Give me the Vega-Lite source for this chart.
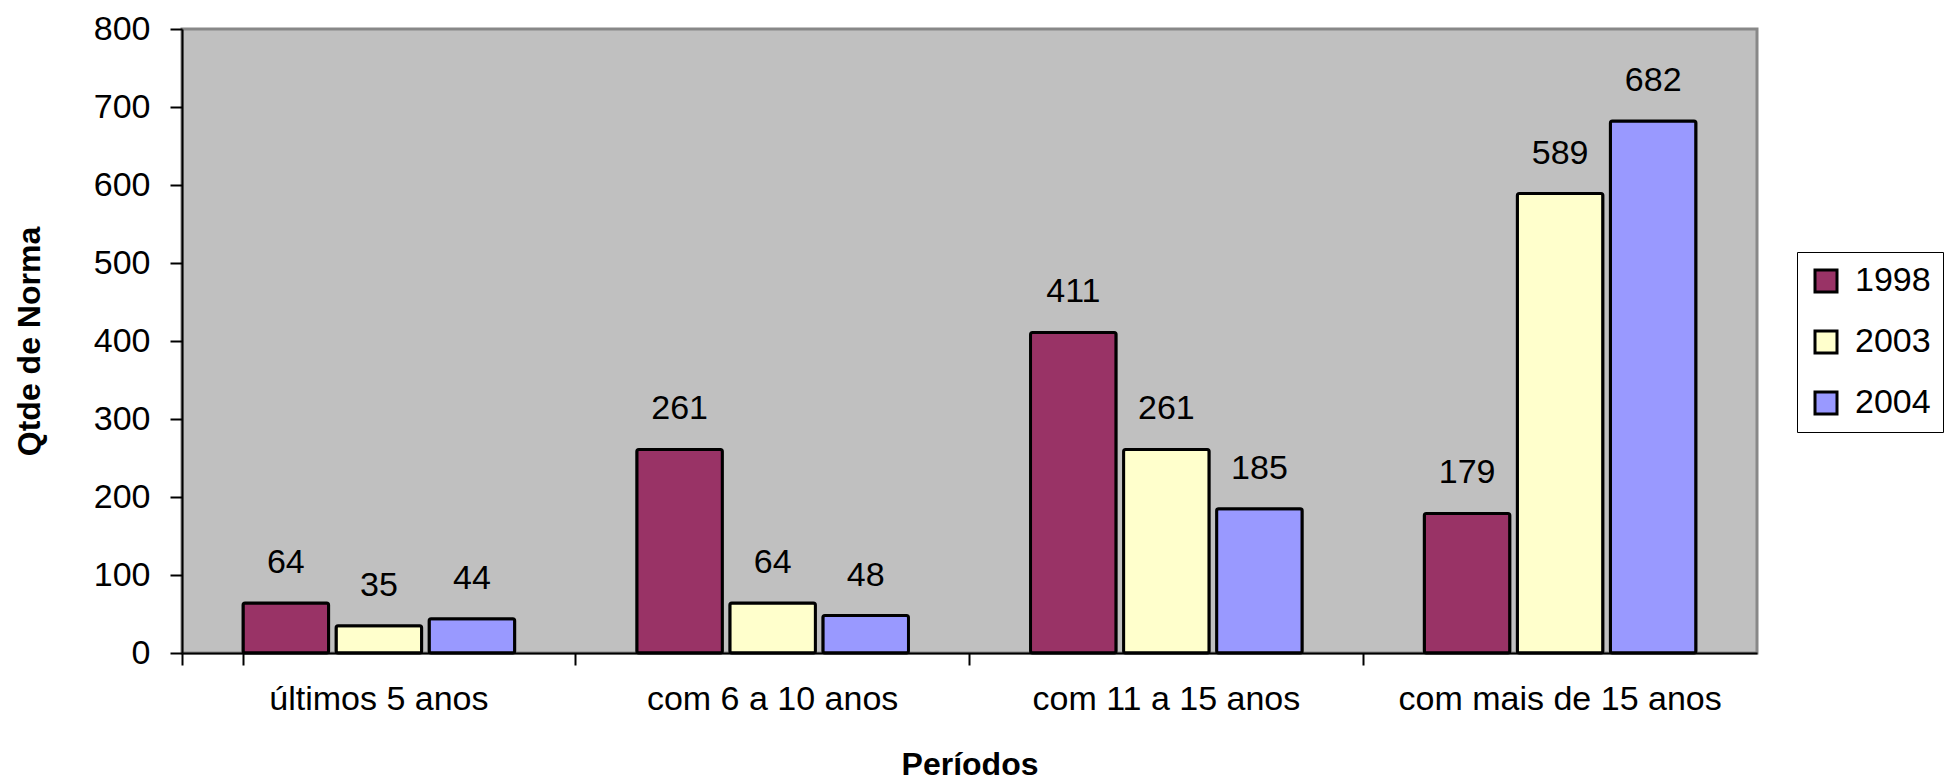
{
  "$schema": "https://vega.github.io/schema/vega-lite/v6.json",
  "width": 1575,
  "height": 624,
  "autosize": {"type": "none"},
  "padding": {"left": 182, "top": 29, "right": 193, "bottom": 128},
  "background": "white",
  "config": {
    "font": "Liberation Sans",
    "view": {"fill": "#C0C0C0", "stroke": "#888888", "strokeWidth": 3}
  },
  "data": {
    "values": [
      {"periodo": "últimos 5 anos", "ano": "1998", "qtd": 64},
      {"periodo": "últimos 5 anos", "ano": "2003", "qtd": 35},
      {"periodo": "últimos 5 anos", "ano": "2004", "qtd": 44},
      {"periodo": "com 6 a 10 anos", "ano": "1998", "qtd": 261},
      {"periodo": "com 6 a 10 anos", "ano": "2003", "qtd": 64},
      {"periodo": "com 6 a 10 anos", "ano": "2004", "qtd": 48},
      {"periodo": "com 11 a 15 anos", "ano": "1998", "qtd": 411},
      {"periodo": "com 11 a 15 anos", "ano": "2003", "qtd": 261},
      {"periodo": "com 11 a 15 anos", "ano": "2004", "qtd": 185},
      {"periodo": "com mais de 15 anos", "ano": "1998", "qtd": 179},
      {"periodo": "com mais de 15 anos", "ano": "2003", "qtd": 589},
      {"periodo": "com mais de 15 anos", "ano": "2004", "qtd": 682}
    ]
  },
  "encoding": {
    "x": {
      "field": "periodo",
      "type": "nominal",
      "sort": ["últimos 5 anos", "com 6 a 10 anos", "com 11 a 15 anos", "com mais de 15 anos"],
      "scale": {"paddingInner": 0.31, "paddingOuter": 0.155},
      "axis": {
        "title": "Períodos",
        "titleFontSize": 32,
        "titleFontWeight": "bold",
        "titleColor": "black",
        "titlePadding": 33,
        "labelAngle": 0,
        "labelFontSize": 34,
        "labelColor": "black",
        "labelPadding": 17,
        "labelLimit": 0,
        "bandPosition": -0.2246,
        "tickExtra": true,
        "tickSize": 12,
        "tickColor": "black",
        "tickWidth": 2,
        "domainColor": "black",
        "domainWidth": 2
      }
    },
    "xOffset": {
      "field": "ano",
      "type": "nominal",
      "scale": {"paddingInner": 0.08, "paddingOuter": 0}
    },
    "y": {
      "field": "qtd",
      "type": "quantitative",
      "scale": {"domain": [0, 800]},
      "axis": {
        "title": "Qtde de Norma",
        "titleFontSize": 32,
        "titleFontWeight": "bold",
        "titleColor": "black",
        "titlePadding": 47,
        "values": [0, 100, 200, 300, 400, 500, 600, 700, 800],
        "grid": false,
        "labelFontSize": 34,
        "labelColor": "black",
        "labelPadding": 20,
        "tickSize": 12,
        "tickColor": "black",
        "tickWidth": 2,
        "domainColor": "black",
        "domainWidth": 2
      }
    }
  },
  "layer": [
    {
      "mark": {"type": "bar", "stroke": "black", "strokeWidth": 3, "cornerRadius": 2},
      "encoding": {
        "color": {
          "field": "ano",
          "type": "nominal",
          "scale": {"domain": ["1998", "2003", "2004"], "range": ["#993366", "#FFFFCC", "#9999FF"]},
          "legend": {
            "title": null,
            "orient": "none",
            "legendX": 1615,
            "legendY": 223,
            "strokeColor": "black",
            "fillColor": "white",
            "padding": 12,
            "symbolType": "square",
            "symbolSize": 484,
            "symbolStrokeColor": "black",
            "symbolStrokeWidth": 3,
            "symbolOpacity": 1,
            "labelFontSize": 34,
            "labelColor": "black",
            "labelOffset": 12,
            "rowPadding": 27
          }
        }
      }
    },
    {
      "mark": {"type": "text", "baseline": "alphabetic", "dy": -30, "fontSize": 34, "color": "black"},
      "encoding": {"text": {"field": "qtd", "type": "quantitative"}}
    }
  ]
}
